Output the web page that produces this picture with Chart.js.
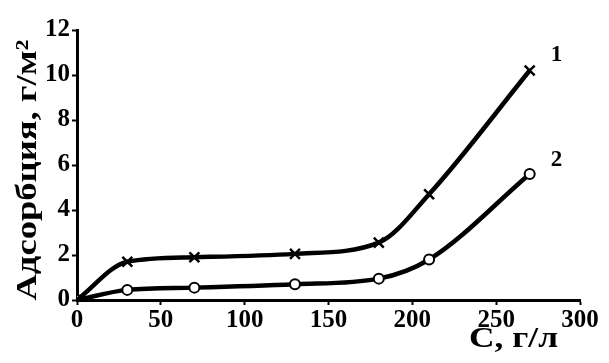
<!DOCTYPE html>
<html><head><meta charset="utf-8">
<script src="https://cdn.jsdelivr.net/npm/chart.js@4/dist/chart.umd.min.js"></script>
<style>html,body{margin:0;padding:0;background:#fff}#wrap{width:609px;height:363px}</style>
</head><body><div id="wrap"><canvas id="c" width="609" height="363"></canvas></div>
<script>
const concentrations = [0, 30, 70, 130, 180, 210, 270];
const series1 = [0, 1.7, 1.9, 2.05, 2.55, 4.7, 10.2];
const series2 = [0, 0.45, 0.55, 0.7, 0.95, 1.8, 5.6];
const seriesLabels = ['1', '2'];
const xTicks = [0, 50, 100, 150, 200, 250, 300];
const yTicks = [0, 2, 4, 6, 8, 10, 12];
const xTitle = 'С, г/л';
const yTitle = 'Адсорбция, г/м²';

const FONT = '"Liberation Serif", "Times New Roman", serif';
const toPts = (xs, ys) => xs.map((x, i) => ({x, y: ys[i]}));

const textPlugin = {
  id: 'texts',
  afterDraw(chart) {
    const ctx = chart.ctx;
    const xs = chart.scales.x, ys = chart.scales.y;
    ctx.save();
    ctx.fillStyle = '#000';
    ctx.font = 'bold 30px ' + FONT;
    ctx.translate(28, 170);
    ctx.rotate(-Math.PI / 2);
    ctx.scale(1.22, 1);
    ctx.textAlign = 'center'; ctx.textBaseline = 'middle';
    ctx.fillText(yTitle, 0, 0);
    ctx.restore();

    ctx.save();
    ctx.fillStyle = '#000';
    ctx.font = 'bold 30px ' + FONT;
    ctx.translate(558, 347);
    ctx.scale(1.18, 1);
    ctx.textAlign = 'right'; ctx.textBaseline = 'alphabetic';
    ctx.fillText(xTitle, 0, 0);
    ctx.restore();

    ctx.save();
    ctx.fillStyle = '#000';
    ctx.font = 'bold 23px ' + FONT;
    ctx.textAlign = 'left'; ctx.textBaseline = 'middle';
    const last = concentrations.length - 1;
    const lx = xs.getPixelForValue(concentrations[last]) + 21;
    ctx.fillText(seriesLabels[0], lx, ys.getPixelForValue(series1[last]) - 15);
    ctx.fillText(seriesLabels[1], lx, ys.getPixelForValue(series2[last]) - 14);
    ctx.restore();
  }
};

new Chart(document.getElementById('c'), {
  type: 'line',
  data: {
    datasets: [
      {label: seriesLabels[0], data: toPts(concentrations, series1), borderColor: '#000', borderWidth: 4.5,
       cubicInterpolationMode: 'monotone', pointStyle: 'crossRot', pointRadius: 7, pointBorderWidth: 2.5,
       pointBorderColor: '#000', pointBackgroundColor: '#000'},
      {label: seriesLabels[1], data: toPts(concentrations, series2), borderColor: '#000', borderWidth: 4.5,
       cubicInterpolationMode: 'monotone', pointStyle: 'circle', pointRadius: 5, pointBorderWidth: 2,
       pointBorderColor: '#000', pointBackgroundColor: '#fff'}
    ]
  },
  options: {
    responsive: false, animation: false,
    layout: {autoPadding: false, padding: {left: 0, top: 30, right: 29, bottom: 0}},
    plugins: {legend: {display: false}, tooltip: {enabled: false}},
    scales: {
      x: {
        type: 'linear', min: 0, max: 300,
        afterFit(s) { s.height = 63; },
        afterBuildTicks(s) { s.ticks = xTicks.map(v => ({value: v})); },
        grid: {drawOnChartArea: false, drawTicks: true, tickLength: 5, tickColor: '#000', tickWidth: 2},
        border: {display: true, color: '#000', width: 3},
        ticks: {color: '#000', font: {family: FONT, size: 25, weight: 'bold'}, padding: 1, maxRotation: 0}
      },
      y: {
        type: 'linear', min: 0, max: 12,
        afterFit(s) { s.width = 77; },
        afterBuildTicks(s) { s.ticks = yTicks.map(v => ({value: v})); },
        grid: {drawOnChartArea: false, drawTicks: true, tickLength: 5, tickColor: '#000', tickWidth: 2},
        border: {display: true, color: '#000', width: 3},
        ticks: {color: '#000', font: {family: FONT, size: 25, weight: 'bold'}, padding: 2}
      }
    }
  },
  plugins: [textPlugin]
});
</script></body></html>
